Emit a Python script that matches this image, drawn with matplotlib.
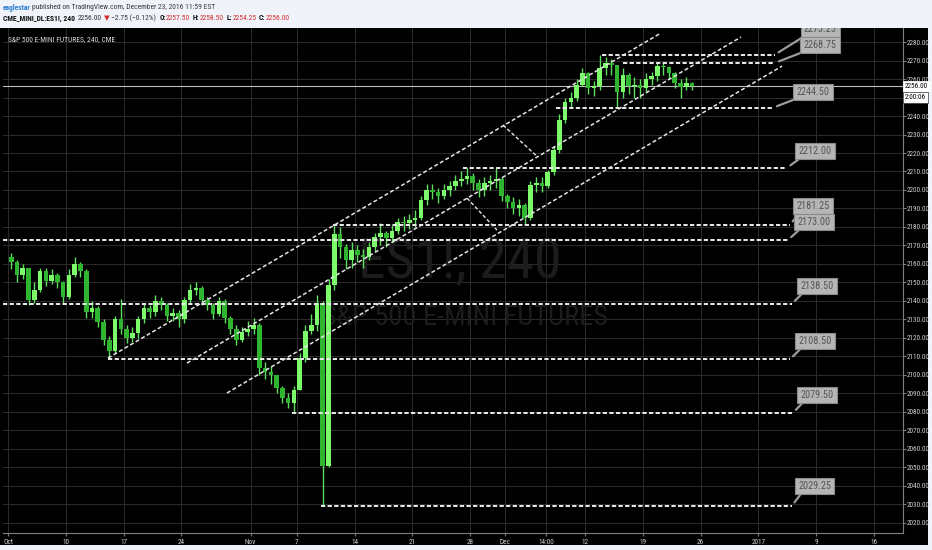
import numpy as np
import matplotlib
matplotlib.use("Agg")
import matplotlib.pyplot as plt
from matplotlib import font_manager as fm
from matplotlib.patches import Rectangle

# ---------------- data (4h candles grouped as half-day bars) ----------------
first_open = 2164.0
close = [2161, 2154, 2158, 2140.5, 2146, 2156, 2151, 2154, 2150, 2142,
         2154, 2160, 2156, 2134, 2136, 2128.5, 2119, 2113, 2130, 2125,
         2120, 2122.5, 2130, 2136, 2134, 2140, 2138, 2132, 2133.5, 2130,
         2140.5, 2146, 2147, 2140.5, 2138, 2133, 2140, 2131, 2125, 2119,
         2123, 2125, 2127, 2104, 2101.5, 2100, 2093, 2087.5, 2085, 2092,
         2109, 2124, 2127, 2139, 2051, 2148.5, 2176, 2169, 2162, 2167.5,
         2165, 2164, 2169, 2174.5, 2176.5, 2174, 2178, 2182.5, 2182, 2183.5,
         2185, 2194.5, 2200, 2199, 2197, 2200, 2202, 2205, 2206, 2207.5,
         2204, 2200, 2204, 2205, 2206, 2197, 2193.5, 2190, 2192, 2185,
         2202.5, 2204, 2202, 2209.5, 2221.5, 2238, 2247.5, 2250, 2257, 2263,
         2255, 2256, 2266, 2268.5, 2267.5, 2253, 2262, 2256, 2257, 2255,
         2260, 2261.5, 2267, 2266.5, 2263, 2258, 2255.5, 2258, 2256]
high = [2166, 2162, 2160, 2157, 2150, 2158, 2158, 2157, 2155, 2151,
        2157, 2164, 2161, 2157, 2140, 2137, 2130, 2121, 2132, 2141,
        2127, 2126, 2132, 2139, 2138, 2143, 2142, 2139, 2136, 2135,
        2142, 2149, 2150, 2148, 2142, 2139, 2142, 2141, 2132, 2127,
        2126, 2129, 2131, 2128, 2107, 2105, 2099, 2094, 2090, 2094,
        2112, 2127, 2133, 2143, 2140, 2152, 2181.25, 2180, 2171, 2172,
        2170, 2168, 2172, 2177, 2182, 2178, 2181, 2185, 2186, 2187,
        2189, 2197, 2203, 2203, 2201, 2203, 2205, 2208, 2210, 2212,
        2209, 2206, 2207, 2208, 2212, 2207, 2198, 2196, 2195, 2193,
        2205, 2207, 2207, 2211, 2224, 2241, 2250, 2253, 2260, 2266,
        2264, 2259, 2273.25, 2272, 2271, 2267, 2266, 2263, 2261, 2260,
        2263, 2264, 2268.75, 2268.5, 2267, 2264, 2260, 2261, 2258.5]
low = [2157, 2150, 2152, 2138, 2139, 2145, 2148, 2149, 2147, 2139,
       2141, 2153, 2153, 2131, 2131, 2126, 2116, 2108.5, 2112, 2122,
       2117, 2118, 2120, 2128, 2131, 2132, 2135, 2129, 2129, 2126,
       2128, 2139, 2143, 2138, 2135, 2130, 2132, 2128, 2122, 2116,
       2118, 2121, 2122, 2100, 2098, 2095, 2090, 2085, 2082, 2079.5,
       2092, 2107, 2122, 2124, 2029.25, 2050, 2146, 2163, 2157, 2158,
       2161, 2158, 2162, 2167, 2170, 2169, 2172, 2176, 2178, 2179,
       2180, 2184, 2192, 2195, 2193, 2195, 2197, 2200, 2202, 2203,
       2200, 2196, 2197, 2200, 2201, 2194, 2190, 2187, 2186, 2181.25,
       2184, 2199, 2199, 2201, 2208, 2220, 2236, 2244.5, 2248, 2256,
       2252, 2251, 2254, 2262, 2262, 2244.5, 2250, 2252, 2250, 2250,
       2253, 2257, 2259, 2262, 2260, 2255, 2250, 2254, 2254.25]
bars_per_day = 2

# x axis in trading days since Oct 3, 2016
date_ticks = [0, 5, 10, 15, 21, 25, 30, 35, 40, 43, 46.6, 50, 55, 60, 65, 70, 75]
date_labels = ['Oct', '10', '17', '24', 'Nov', '7', '14', '21', '28', 'Dec',
               '14:00', '12', '19', '26', '2017', '9', '16']
price_ticks = list(range(2020, 2281, 10))

# horizontal levels (price, start day, end day)
level_values = [2273.25, 2268.75, 2244.50, 2212.00, 2181.25, 2173.00,
                2138.50, 2108.50, 2079.50, 2029.25]
level_start = [51.45, 53.27, 47.46, 39.4, 28.14, -0.5, -0.5, 8.64, 24.58, 27.1]
level_end = [66.44, 66.44, 66.27, 67.48, 67.74, 67.57, 67.9, 67.74, 68.0, 67.9]

# trend channel lines (day, price) -> (day, price)
chan_x0 = [8.64, 15.48, 18.95]
chan_y0 = [2109.1, 2106.4, 2090.2]
chan_x1 = [56.56, 63.49, 67.05]
chan_y1 = [2284.9, 2282.7, 2267.0]
# channel width markers
mark_x0 = [39.75, 42.87]
mark_y0 = [2195.6, 2235.1]
mark_x1 = [42.35, 45.8]
mark_y1 = [2178.3, 2218.3]

last_price = 2256.00

# ---------------- fonts ----------------
avail = {f.name for f in fm.fontManager.ttflist}
narrow = None
for cand in ['Liberation Sans Narrow', 'DejaVu Sans Condensed', 'Roboto Condensed',
             'Open Sans Condensed', 'Noto Sans Condensed']:
    if cand in avail:
        narrow = cand
        break
if narrow is None:
    FAM = ['Liberation Sans', 'DejaVu Sans']
    SC = 0.82
else:
    FAM = [narrow, 'DejaVu Sans']
    SC = 1.0
plt.rcParams['font.family'] = FAM

W, H = 932, 550
fig = plt.figure(figsize=(W / 100, H / 100), dpi=100, facecolor='#f0f3fa')
fig.patches.append(Rectangle((0, 1 - 545 / H), 928 / W, (545 - 28) / H,
                             transform=fig.transFigure, facecolor='black',
                             edgecolor='none', zorder=-10))
ax = fig.add_axes([3 / W, 1 - 533 / H, 900 / W, 505 / H])
ax.set_zorder(1)
ax.set_facecolor('black')
ax.set_xlim(-0.46, 77.53)
ax.set_ylim(2014.5, 2287.6)

# grid / axes
ax.set_xticks(date_ticks)
ax.set_xticklabels(date_labels)
ax.yaxis.tick_right()
ax.set_yticks(price_ticks)
# the 2250.00 label is hidden behind the countdown box in the reference
ax.set_yticklabels(['' if v == 2250 else '%.2f' % v for v in price_ticks])
ax.tick_params(axis='x', colors='#7a7a7a', labelcolor='#d0d0d0', labelsize=5.2 * SC,
               length=2, pad=2)
ax.tick_params(axis='y', colors='#7a7a7a', labelcolor='#d0d0d0', labelsize=5.2 * SC,
               length=2, pad=0.8)
ax.grid(True, color='#2c2c2c', lw=0.7)
ax.set_axisbelow(True)
for s in ['top', 'left']:
    ax.spines[s].set_visible(False)
for s in ['right', 'bottom']:
    ax.spines[s].set_color('#808080')
    ax.spines[s].set_linewidth(0.8)

# watermark
ax.text(0.508, 0.535, 'ES1!, 240', transform=ax.transAxes, ha='center', va='center',
        fontsize=40 * SC, color='#1c1c1c', zorder=1)
ax.text(0.513, 0.426, 'S&P 500 E-MINI FUTURES', transform=ax.transAxes, ha='center',
        va='center', fontsize=20.5 * SC, color='#1c1c1c', zorder=1)
ax.text(5 / 900, 1 - 12 / 505, 'S&P 500 E-MINI FUTURES, 240, CME', transform=ax.transAxes,
        ha='left', va='center', fontsize=5.4 * SC, color='#dddddd', zorder=6)

# last price line
ax.axhline(last_price, color='#bdbdbd', lw=0.8, zorder=2)

# candles
c = np.array(close, float)
hi = np.array(high, float)
lo = np.array(low, float)
o = np.r_[first_open, c[:-1]]
hi = np.maximum(hi, np.maximum(o, c))
lo = np.minimum(lo, np.minimum(o, c))
pos = np.arange(len(c)) / bars_per_day + 0.5 / bars_per_day
up = c >= o
ax.vlines(pos, lo, hi, colors='#5ee05e', lw=1.0, zorder=3)
body_col = np.where(up, '#7CFC6A', '#2fb52f')
ax.bar(pos, np.maximum(np.abs(c - o), 0.5), bottom=np.minimum(o, c), width=0.4,
       color=body_col, edgecolor='none', zorder=4)

# horizontal dashed levels
for v, x0, x1 in zip(level_values, level_start, level_end):
    ax.plot([x0, x1], [v, v], color='#ececec', lw=1.4, dashes=(2.2, 1.2), zorder=5,
            dash_capstyle='butt')

# channel lines
for x0, y0, x1, y1 in zip(chan_x0, chan_y0, chan_x1, chan_y1):
    ax.plot([x0, x1], [y0, y1], color='#e6e6e6', lw=1.1, dashes=(2.6, 1.6), zorder=5)
for x0, y0, x1, y1 in zip(mark_x0, mark_y0, mark_x1, mark_y1):
    ax.plot([x0, x1], [y0, y1], color='#e6e6e6', lw=1.0, dashes=(2.6, 1.6), zorder=5)

# callouts
call_off = [(45, 26), (45, 18), (40, 16), (28, 17), (23, 19), (26, 18),
            (25, 18), (25, 18), (24, 18), (23, 20)]
for v, x1, (dx, dy) in zip(level_values, level_end, call_off):
    ax.annotate('%.2f' % v, xy=(x1, v), xytext=(dx, dy), textcoords='offset pixels',
                ha='center', va='center', fontsize=7.4 * SC, color='#555555',
                bbox=dict(boxstyle='square,pad=0.3', fc='#b5b5b5', ec='#8a8a8a', lw=0.8),
                arrowprops=dict(arrowstyle='-', color='#9c9c9c', lw=1.6, shrinkA=0,
                                shrinkB=3, relpos=(0.15, 0.0)),
                zorder=7, clip_on=True, annotation_clip=False)

# price axis labels
ytr = ax.get_yaxis_transform()
ax.text(1.002, last_price, '%.2f' % last_price, transform=ytr, ha='left', va='center',
        fontsize=5.2 * SC, color='black', zorder=10, clip_on=False,
        bbox=dict(boxstyle='square,pad=0.25', fc='white', ec='white', lw=0.5))
ax.text(1.002, last_price - 6.0, '2:00:06', transform=ytr, ha='left', va='center',
        fontsize=5.2 * SC, color='black', zorder=10, clip_on=False,
        bbox=dict(boxstyle='square,pad=0.25', fc='white', ec='#333333', lw=0.5))

# header
renderer = fig.canvas.get_renderer()


def seq_text(x_px, y_px, pieces, size):
    x = x_px
    for s, col, wt, gap in pieces:
        t = fig.text(x / W, 1 - y_px / H, s, color=col, fontsize=size, fontweight=wt,
                     ha='left', va='center')
        bb = t.get_window_extent(renderer)
        x += bb.width + gap


red = '#d0302f'
seq_text(3, 7.5, [('eaglestar', '#2c7fd3', 'bold', 1.5),
                  ('published on TradingView.com, December 23, 2016 11:59 EST', '#3a3a3a',
                   'normal', 0)], 5.4 * SC)
seq_text(3, 18.5, [('CME_MINI_DL:ES1!, 240', '#111111', 'bold', 3),
                   ('2256.00', '#333333', 'normal', 2),
                   ('▼', red, 'normal', 1.5),
                   ('−2.75 (−0.12%)', '#333333', 'normal', 3),
                   ('O:', '#111111', 'bold', 0.5), ('2257.50', red, 'normal', 2.5),
                   ('H:', '#111111', 'bold', 0.5), ('2258.50', red, 'normal', 2.5),
                   ('L:', '#111111', 'bold', 0.5), ('2254.25', red, 'normal', 2.5),
                   ('C:', '#111111', 'bold', 0.5), ('2256.00', red, 'normal', 0)],
         5.4 * SC)

fig.savefig('out.png', dpi=100, facecolor=fig.get_facecolor())
